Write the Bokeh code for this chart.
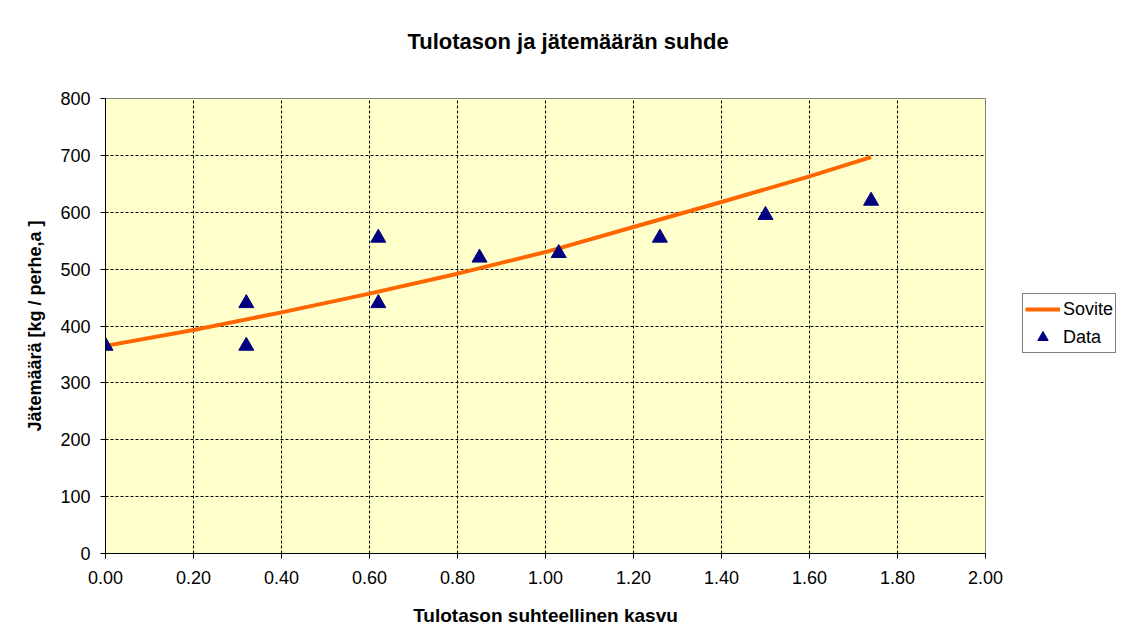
from bokeh.plotting import figure
from bokeh.models import FixedTicker, PrintfTickFormatter, Legend, LegendItem, Title
from bokeh.layouts import row
from bokeh.embed import file_html
from bokeh.resources import INLINE

# Data points
data_x = [0.00, 0.32, 0.32, 0.62, 0.62, 0.85, 1.03, 1.26, 1.50, 1.74]
data_y = [365, 440, 365, 555, 440, 520, 528, 555, 595, 620]

# Fitted curve ("Sovite")
fit_x = [0.00, 0.20, 0.40, 0.60, 0.80, 1.00, 1.20, 1.40, 1.60, 1.74]
fit_y = [365, 393, 424, 457, 492, 530, 574, 618, 663, 697]

x_ticks = [0.0, 0.2, 0.4, 0.6, 0.8, 1.0, 1.2, 1.4, 1.6, 1.8, 2.0]
y_ticks = [0, 100, 200, 300, 400, 500, 600, 700, 800]

FONT = "Liberation Sans"
FIT_COLOR = "#FF6600"
DATA_COLOR = "#000080"

p = figure(width=1015, height=639, output_backend="svg", toolbar_location=None,
           x_range=(0, 2), y_range=(0, 800),
           min_border_left=105, min_border_right=30, min_border_top=98, min_border_bottom=86)

p.border_fill_color = "white"
p.background_fill_color = "#FFFFCC"
p.outline_line_color = "#808080"
p.outline_line_width = 1

# spacer panel between frame and title (added first = closest to the frame)
spacer = Title(text=" ", text_font=FONT, text_font_size="1px", standoff=13)
p.add_layout(spacer, "above")

t = Title(text="Tulotason ja jätemäärän suhde", align="left", vertical_align="top",
          text_font=FONT, text_font_size="22px", text_font_style="bold",
          text_color="black", standoff=54, offset=302)
p.add_layout(t, "above")

p.xaxis.ticker = FixedTicker(ticks=x_ticks)
p.yaxis.ticker = FixedTicker(ticks=y_ticks)
p.xaxis.formatter = PrintfTickFormatter(format="%.2f")
p.yaxis.formatter = PrintfTickFormatter(format="%d")

for ax in (p.xaxis, p.yaxis):
    ax.axis_line_color = "black"
    ax.axis_line_width = 1
    ax.major_tick_line_color = "black"
    ax.major_tick_out = 5
    ax.major_tick_in = 0
    ax.minor_tick_line_color = None
    ax.major_label_text_font = FONT
    ax.major_label_text_font_size = "18px"
    ax.major_label_text_color = "black"
    ax.axis_label_text_font = FONT
    ax.axis_label_text_font_style = "bold"
    ax.axis_label_text_color = "black"

p.xaxis.axis_label = "Tulotason suhteellinen kasvu"
p.yaxis.axis_label = "Jätemäärä [kg / perhe,a ]"
p.xaxis.axis_label_text_font_size = "19px"
p.yaxis.axis_label_text_font_size = "18px"
p.xaxis.major_label_standoff = 12
p.xaxis.axis_label_standoff = 18
p.yaxis.major_label_standoff = 10
p.yaxis.axis_label_standoff = 12

for g in (p.xgrid, p.ygrid):
    g.grid_line_color = "black"
    g.grid_line_dash = "3 2"
    g.grid_line_width = 1

p.line(fit_x, fit_y, line_color=FIT_COLOR, line_width=4)
p.scatter(data_x, data_y, marker="triangle", size=15,
          fill_color=DATA_COLOR, line_color=DATA_COLOR)

# Legend panel: a small figure to the right; its renderers reuse the series
# but its ranges keep them out of view, so only the legend shows.
lf = figure(width=106, height=639, output_backend="svg", toolbar_location=None,
            x_range=(10, 11), y_range=(10, 11), x_axis_type=None, y_axis_type=None,
            min_border_left=0, min_border_right=0, min_border_top=0, min_border_bottom=0)
lf.outline_line_color = None
lf.background_fill_color = "white"
lf.border_fill_color = "white"
lf.grid.visible = False
lr_fit = lf.line(fit_x, fit_y, line_color=FIT_COLOR, line_width=4)
lr_data = lf.scatter(data_x, data_y, marker="triangle", size=13,
                     fill_color=DATA_COLOR, line_color=DATA_COLOR)

legend = Legend(items=[LegendItem(label="Sovite", renderers=[lr_fit]),
                       LegendItem(label="Data", renderers=[lr_data])],
                location=(7, 200), orientation="vertical",
                label_text_font=FONT, label_text_font_size="18px",
                label_text_color="black",
                border_line_color="black", border_line_width=1,
                background_fill_color="white", background_fill_alpha=1,
                glyph_width=35, glyph_height=26, spacing=2, padding=2,
                margin=0, label_standoff=3)
lf.add_layout(legend, "center")

layout = row(p, lf, spacing=0)
open("out.html", "w").write(file_html(layout, INLINE))
